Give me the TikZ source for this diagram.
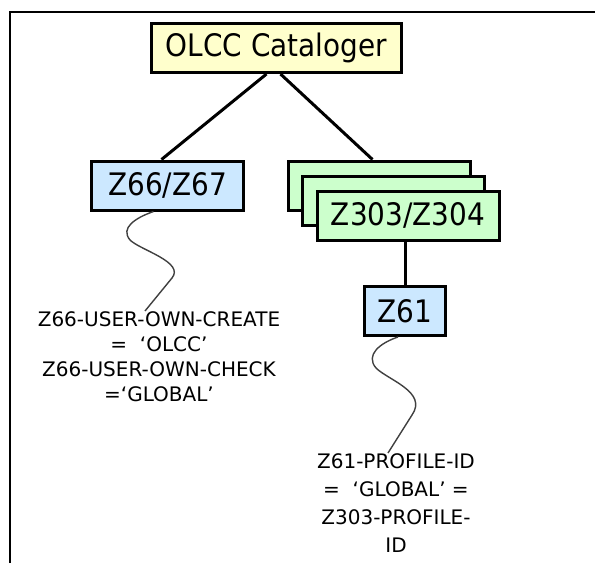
\documentclass[tikz,border=0pt]{standalone}
\usepackage{fontspec}
\setmainfont{DejaVu Sans}[FakeStretch=0.9]
\newfontfamily\notefont{DejaVu Sans}
\definecolor{boxyellow}{HTML}{FFFFCC}
\definecolor{boxblue}{HTML}{CCE8FF}
\definecolor{boxgreen}{HTML}{CCFFCC}
\definecolor{wavegray}{HTML}{404040}
\begin{document}
\begin{tikzpicture}[x=1pt,y=-1pt,
  tbox/.style={draw=black, line width=3pt, inner sep=0pt, minimum height=49pt,
    font=\fontsize{31}{31}\selectfont},
  link/.style={draw=black, line width=3pt},
  wave/.style={draw=wavegray, line width=1.4pt},
  note/.style={inner sep=0pt, align=center, font=\notefont\fontsize{20}{25}\selectfont},
  frameline/.style={draw=black, line width=2.5pt}]
\useasboundingbox (0,0) rectangle (595,563);
\draw[frameline] (10,563) -- (10,12) -- (595,12);

\node[tbox, fill=boxyellow, minimum width=250pt] (olcc) at (276.5,48) {OLCC Cataloger};
\node[tbox, fill=boxblue, minimum width=152pt] (z66) at (167.5,185.5) {Z66/Z67};
\node[tbox, fill=boxgreen, minimum width=182pt] (g1) at (379.5,185.5) {\phantom{Z303/Z304}};
\node[tbox, fill=boxgreen, minimum width=182pt] (g2) at (393.5,201) {\phantom{Z303/Z304}};
\node[tbox, fill=boxgreen, minimum width=182pt] (g3) at (408,215.5) {Z303/Z304};
\node[tbox, fill=boxblue, minimum width=81pt] (z61) at (405,311) {Z61};

\draw[link] ([xshift=-10pt]olcc.south) -- ([xshift=-6pt]z66.north);
\draw[link] ([xshift=4pt]olcc.south) -- ([xshift=-7pt]g1.north);
\draw[link] (z61.north) -- (z61.north |- g3.south);

\node[note, anchor=north] (n66) at (159,311) {Z66-USER-OWN-CREATE\\=\ \ ‘OLCC’\\Z66-USER-OWN-CHECK\\=‘GLOBAL’};
\node[note, anchor=north, font=\notefont\fontsize{20}{28}\selectfont] (n61) at (396,453) {Z61-PROFILE-ID\\=\ \ ‘GLOBAL’ =\\Z303-PROFILE-\\ID};

\coordinate (w66a) at ([xshift=-14pt]z66.south);
\coordinate (w66b) at ([xshift=-14pt]n66.north);
\draw[wave] (w66a) .. controls (135,218) and (120,228) .. (130,240)
  .. controls (140,250) and (185,262) .. (172,278) -- (w66b);
\coordinate (w61a) at ([xshift=-7pt]z61.south);
\coordinate (w61b) at ([xshift=-8pt]n61.north);
\draw[wave] (w61a) .. controls (380,343) and (365,355) .. (376,368)
  .. controls (388,380) and (428,392) .. (412,415) -- (w61b);
\end{tikzpicture}
\end{document}
